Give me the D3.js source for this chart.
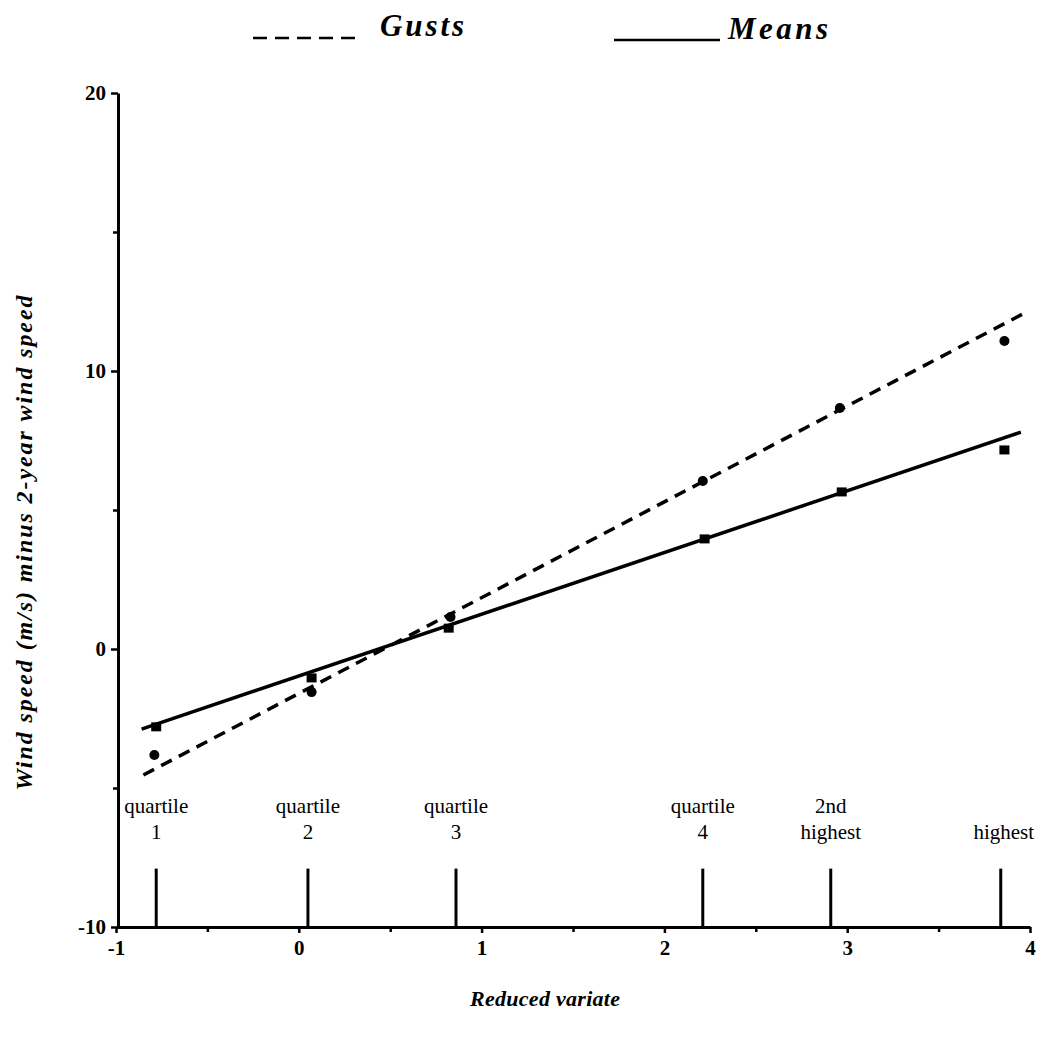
<!DOCTYPE html>
<html><head><meta charset="utf-8">
<script src="https://cdn.jsdelivr.net/npm/d3@7"></script>
<style>body{margin:0;background:#fff;} svg{display:block;}</style>
</head><body>
<svg id="c" width="1042" height="1040"></svg>
<script>
// Data
const meansX = [-0.78, 0.07, 0.82, 2.22, 2.97, 3.86];
const meansY = [-2.8, -1.04, 0.75, 3.96, 5.65, 7.16];
const gustsX = [-0.79, 0.07, 0.83, 2.21, 2.96, 3.86];
const gustsY = [-3.81, -1.55, 1.15, 6.04, 8.67, 11.08];
const meansFitX = [-0.86, 3.95];
const meansFitY = [-2.88, 7.8];
const gustsFitX = [-0.85, 3.96];
const gustsFitY = [-4.53, 12.05];
const markerX = [-0.78, 0.05, 0.86, 2.21, 2.91, 3.84];
const markerLabels = [["quartile","1"],["quartile","2"],["quartile","3"],["quartile","4"],["2nd","highest"],["","highest"]];
const markerTop = -7.9;
const xTicks = [-1, 0, 1, 2, 3, 4];
const xMinor = [-0.5, 0.5, 1.5, 2.5, 3.5];
const yTicks = [-10, 0, 10, 20];
const yMinor = [-5, 5, 15];

const svg = d3.select("#c");
const x = d3.scaleLinear().domain([-1, 4]).range([116, 1030]);
const y = d3.scaleLinear().domain([-10, 20]).range([927, 93]);
const serif = "'Liberation Serif','DejaVu Serif',serif";
const fmt = d => String(d);

// axes
const xAxis = d3.axisBottom(x).tickValues(xTicks).tickSize(6).tickSizeOuter(0).tickFormat(fmt);
const gx = svg.append("g").attr("transform", `translate(0,${y(-10)})`).call(xAxis);
gx.select(".domain").attr("stroke-width", 3);
gx.selectAll(".tick line").attr("stroke-width", 2.5);
gx.selectAll(".tick text").attr("font-family", serif).attr("font-weight", "bold").attr("font-size", 21).attr("y", 12).attr("dy", "0.75em");
svg.append("g").attr("transform", `translate(0,${y(-10)})`)
  .call(d3.axisBottom(x).tickValues(xMinor).tickSize(5).tickFormat(""))
  .call(g => { g.select(".domain").remove(); g.selectAll("line").attr("stroke-width", 2.5); });

const yAxis = d3.axisLeft(y).tickValues(yTicks).tickSize(7).tickSizeOuter(0).tickFormat(fmt);
const gy = svg.append("g").attr("transform", `translate(${x(-1)+2},0)`).call(yAxis);
gy.select(".domain").attr("stroke-width", 3);
gy.selectAll(".tick line").attr("stroke-width", 2.5);
gy.selectAll(".tick text").attr("font-family", serif).attr("font-weight", "bold").attr("font-size", 21).attr("x", -12);
svg.append("g").attr("transform", `translate(${x(-1)+2},0)`)
  .call(d3.axisLeft(y).tickValues(yMinor).tickSize(5).tickFormat(""))
  .call(g => { g.select(".domain").remove(); g.selectAll("line").attr("stroke-width", 2.5); });

// marker lines
markerX.forEach((mx, i) => {
  svg.append("line").attr("x1", x(mx)).attr("x2", x(mx))
    .attr("y1", y(markerTop)).attr("y2", y(-10)).attr("stroke", "#000").attr("stroke-width", 3);
  const lab = markerLabels[i];
  const t = svg.append("text").attr("font-family", serif).attr("font-size", 21)
    .attr("text-anchor", "middle").attr("fill", "#000");
  if (lab[0]) t.append("tspan").attr("x", x(mx)).attr("y", 813).text(lab[0]);
  t.append("tspan").attr("x", x(mx) + (i === 5 ? 3 : 0)).attr("y", 839).text(lab[1]);
});

// fit lines
const line = d3.line().x(d => x(d[0])).y(d => y(d[1]));
svg.append("path").datum(d3.zip(gustsFitX, gustsFitY)).attr("d", line)
  .attr("fill", "none").attr("stroke", "#000").attr("stroke-width", 3.5).attr("stroke-dasharray", "12,8");
svg.append("path").datum(d3.zip(meansFitX, meansFitY)).attr("d", line)
  .attr("fill", "none").attr("stroke", "#000").attr("stroke-width", 3.5);

// points
svg.selectAll(".g").data(d3.zip(gustsX, gustsY)).join("circle")
  .attr("cx", d => x(d[0])).attr("cy", d => y(d[1])).attr("r", 5).attr("fill", "#000");
svg.selectAll(".m").data(d3.zip(meansX, meansY)).join("rect")
  .attr("x", d => x(d[0]) - 5).attr("y", d => y(d[1]) - 4.5).attr("width", 10).attr("height", 9).attr("fill", "#000");

// legend
svg.append("line").attr("x1", 253).attr("x2", 355).attr("y1", 38).attr("y2", 38)
  .attr("stroke", "#000").attr("stroke-width", 2.5).attr("stroke-dasharray", "14,8");
svg.append("text").attr("x", 380).attr("y", 36).attr("font-family", serif).attr("font-style", "italic")
  .attr("font-weight", "bold").attr("font-size", 31).attr("textLength", 84).text("Gusts");
svg.append("line").attr("x1", 614).attr("x2", 720).attr("y1", 40).attr("y2", 40)
  .attr("stroke", "#000").attr("stroke-width", 2.5);
svg.append("text").attr("x", 728).attr("y", 39).attr("font-family", serif).attr("font-style", "italic")
  .attr("font-weight", "bold").attr("font-size", 31).attr("textLength", 100).text("Means");

// axis titles
svg.append("text").attr("x", 545).attr("y", 1006).attr("text-anchor", "middle")
  .attr("font-family", serif).attr("font-style", "italic").attr("font-weight", "bold").attr("font-size", 22)
  .attr("textLength", 150).text("Reduced variate");
svg.append("text").attr("transform", `translate(24,543) rotate(-90)`)
  .attr("text-anchor", "middle").attr("dy", "0.35em")
  .attr("font-family", serif).attr("font-style", "italic").attr("font-weight", "bold").attr("font-size", 24)
  .attr("textLength", 495).text("Wind speed (m/s) minus 2-year wind speed");
</script>
</body></html>
